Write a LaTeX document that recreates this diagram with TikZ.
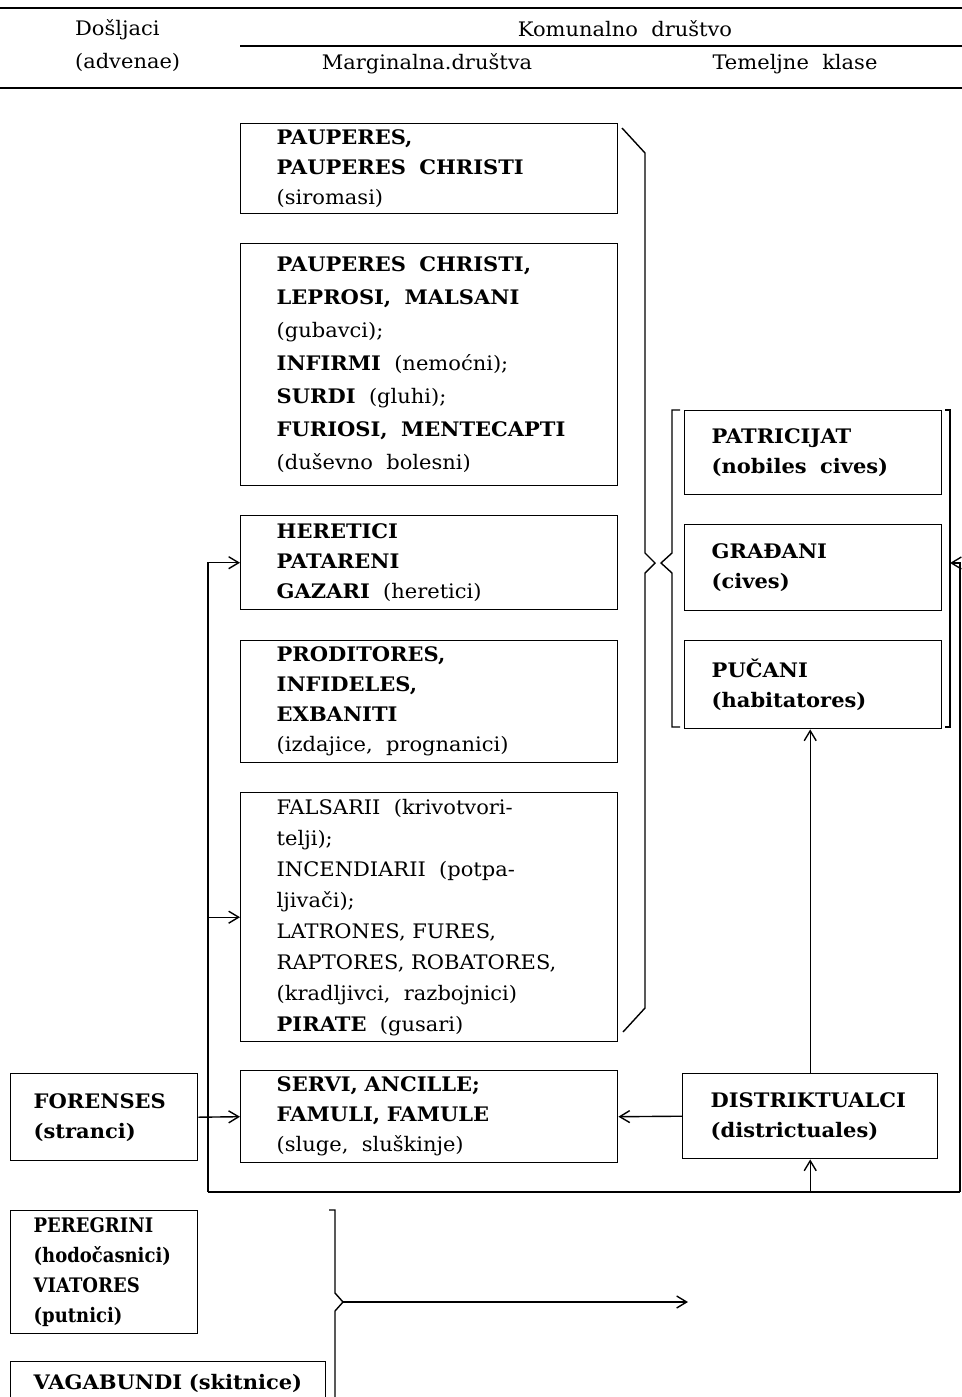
\documentclass[tikz,border=0pt]{standalone}
\usepackage{fontspec}
\setmainfont{DejaVu Serif}[FakeStretch=1.05]
\newfontfamily\uska{DejaVu Serif}[FakeStretch=0.9]
\usetikzlibrary{arrows.meta}

\begin{document}
\begin{tikzpicture}[x=0.5pt,y=0.5pt,yscale=-1,
  >={Straight Barb[length=5pt,width=6pt]},
  every node/.style={font=\fontsize{10}{15}\selectfont},
  okvir/.style={draw, line width=0.7pt, anchor=north west, align=left, inner ysep=2pt},
  marg/.style={okvir, text width=152.5pt, inner xsep=18pt, minimum height=#1},
  klasa/.style={okvir, text width=101.5pt, inner xsep=13.5pt, minimum height=#1},
  strani/.style={okvir, text width=70.5pt, inner xsep=11.5pt, minimum height=#1},
  crta/.style={line width=0.7pt}]
\useasboundingbox (0,0) rectangle (962,1397);

%Header
\draw[line width=1.1pt] (0,8) -- (962,8);
\draw[line width=0.6pt] (240,46) -- (962,46);
\draw[line width=0.9pt] (0,88) -- (962,88);
\node[anchor=west] (dosljaci) at (68,30) {Došljaci};
\node[anchor=west] (advenae) at (68,62) {(advenae)};
\node (komunalno) at (625,29) {Komunalno\ \ društvo};
\node (marginalna) at (427,64) {Marginalna.društva};
\node (temeljne) at (795,64) {Temeljne\ \ klase};

%Marginalna drustva
\node[marg=45pt] (pauperes) at (240,123) {\textbf{PAUPERES,}\\ \textbf{PAUPERES\ \ CHRISTI}\\ (siromasi)};
\node[marg=121pt, font=\fontsize{10}{16.5}\selectfont] (leprosi) at (240,243) {\textbf{PAUPERES\ \ CHRISTI,}\\ \textbf{LEPROSI,\ \ MALSANI}\\ (gubavci);\\ \textbf{INFIRMI}\ \ (nemoćni);\\ \textbf{SURDI}\ \ (gluhi);\\ \textbf{FURIOSI,\ \ MENTECAPTI}\\ (duševno\ \ bolesni)};
\node[marg=47pt] (heretici) at (240,515) {\textbf{HERETICI}\\ \textbf{PATARENI}\\ \textbf{GAZARI}\ \ (heretici)};
\node[marg=61pt] (proditores) at (240,640) {\textbf{PRODITORES,}\\ \textbf{INFIDELES,}\\ \textbf{EXBANITI}\\ (izdajice,\ \ prognanici)};
\node[marg=124.5pt, font=\fontsize{10}{15.5}\selectfont] (falsarii) at (240,792) {FALSARII\ \ (krivotvori-\\ telji);\\ INCENDIARII\ \ (potpa-\\ ljivači);\\ LATRONES,\ FURES,\\ RAPTORES,\ ROBATORES,\\ (kradljivci,\ \ razbojnici)\\ \textbf{PIRATE}\ \ (gusari)};
\node[marg=46pt] (servi) at (240,1070) {\textbf{SERVI,\ ANCILLE;}\\ \textbf{FAMULI,\ FAMULE}\\ (sluge,\ \ sluškinje)};

%Temeljne klase
\node[klasa=42pt] (patricijat) at (684,410) {\textbf{PATRICIJAT}\\ \textbf{(nobiles\ \ cives)}};
\node[klasa=43pt] (gradani) at (684,524) {\textbf{GRAĐANI}\\ \textbf{(cives)}};
\node[klasa=44pt] (pucani) at (684,640) {\textbf{PUČANI}\\ \textbf{(habitatores)}};
\node[okvir, text width=99.5pt, inner xsep=14pt, minimum height=42.5pt] (distr) at (682,1073) {\textbf{DISTRIKTUALCI}\\ \textbf{(districtuales)}};

%Dosljaci
\node[strani=43.5pt] (forenses) at (10,1073) {\textbf{FORENSES}\\ \textbf{(stranci)}};
\node[strani=61.5pt, font=\uska\fontsize{10}{15}\selectfont] (peregrini) at (10,1210) {\textbf{PEREGRINI}\\ \textbf{(hodočasnici)}\\ \textbf{VIATORES}\\ \textbf{(putnici)}};
\node[okvir, text width=134.5pt, inner xsep=11.5pt, minimum height=22pt] (vagabundi) at (10,1361) {\textbf{VAGABUNDI\ (skitnice)}};

%Zagrade
\draw[crta] (622,128) -- (645,153) -- (645,553) -- (655,563) -- (645,573) -- (645,1008) -- (623,1032);
\draw[crta] (680,410) -- (672,410) -- (672,553) -- (661,563) -- (672,573) -- (672,727) -- (680,727);
\draw[crta] (945,410) -- (950,410) -- (950,727) -- (945,727);
\draw[crta] (329,1210) -- (335,1210) -- (335,1293) -- (343,1302) -- (335,1311) -- (335,1400);

%Veze
\coordinate (spojL) at (208,1192);
\coordinate (spojD) at (960,1192);
\coordinate (vrhT) at (950,563);
\coordinate (vrhD) at (343,1302);
\coordinate (cilj) at (688,1302);

\draw[crta,->] (spojL) |- (heretici.west);
\draw[crta,->] (spojL |- falsarii.west) -- (falsarii.west);
\draw[crta] (spojL) -- (spojD);
\draw[crta,->] (spojD) |- (vrhT);
\draw[crta,->] (spojL -| distr.south) -- (distr.south);
\draw[crta,->] (distr.north) -- (distr.north |- pucani.south);
\draw[crta,->] (distr.west) -- (servi.east);
\draw[crta,->] (forenses.east) -- (servi.west);
\draw[crta,->] (vrhD) -- (cilj);

\end{tikzpicture}
\end{document}
